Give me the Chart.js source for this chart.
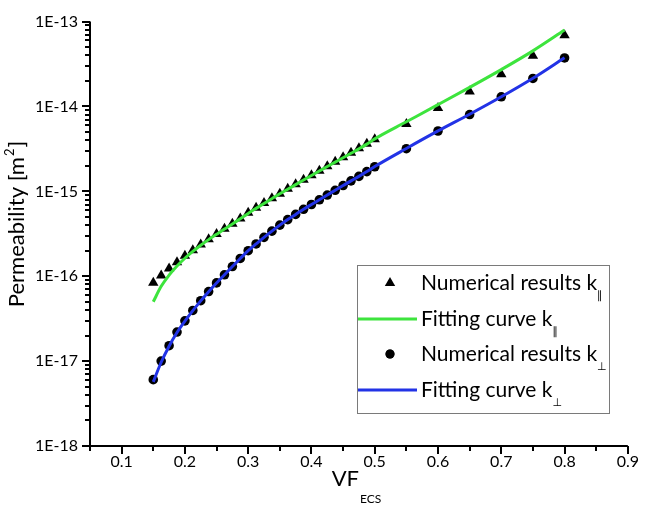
<!DOCTYPE html>
<html>
<head>
<meta charset="utf-8">
<script src="https://cdn.jsdelivr.net/npm/chart.js@4.4.1/dist/chart.umd.min.js"></script>
<style>
  html, body { margin: 0; padding: 0; background: #fff; }
</style>
</head>
<body>
<canvas id="myChart" width="645" height="509"></canvas>
<script>
// volume fraction of ECS
const vfValues = [0.15,0.1625,0.175,0.1875,0.2,0.2125,0.225,0.2375,0.25,0.2625,0.275,0.2875,0.3,0.3125,0.325,0.3375,0.35,0.3625,0.375,0.3875,0.4,0.4125,0.425,0.4375,0.45,0.4625,0.475,0.4875,0.5,0.55,0.6,0.65,0.7,0.75,0.8];

// k parallel
const kParNumerical = [8.4e-17,1.02e-16,1.23e-16,1.46e-16,1.74e-16,2.03e-16,2.36e-16,2.73e-16,3.15e-16,3.62e-16,4.15e-16,4.8e-16,5.6e-16,6.4e-16,7.3e-16,8.3e-16,9.4e-16,1.07e-15,1.21e-15,1.37e-15,1.55e-15,1.75e-15,1.98e-15,2.23e-15,2.52e-15,2.85e-15,3.22e-15,3.63e-15,4.1e-15,6.2e-15,9.6e-15,1.5e-14,2.4e-14,3.95e-14,6.9e-14];
const kParFit = [5.0e-17,7.6e-17,1.03e-16,1.32e-16,1.63e-16,1.96e-16,2.32e-16,2.7e-16,3.12e-16,3.6e-16,4.13e-16,4.75e-16,5.5e-16,6.3e-16,7.2e-16,8.2e-16,9.35e-16,1.06e-15,1.2e-15,1.36e-15,1.54e-15,1.74e-15,1.96e-15,2.21e-15,2.49e-15,2.81e-15,3.17e-15,3.6e-15,4.15e-15,6.6e-15,1.05e-14,1.68e-14,2.72e-14,4.52e-14,7.94e-14];

// k perpendicular
const kPerpNumerical = [6.05e-18,1.0e-17,1.52e-17,2.2e-17,2.98e-17,3.95e-17,5.15e-17,6.6e-17,8.35e-17,1.04e-16,1.3e-16,1.62e-16,2.0e-16,2.4e-16,2.87e-16,3.4e-16,4.0e-16,4.65e-16,5.35e-16,6.15e-16,7.0e-16,7.95e-16,9.05e-16,1.03e-15,1.17e-15,1.33e-15,1.5e-15,1.71e-15,1.95e-15,3.18e-15,5.14e-15,8.04e-15,1.3e-14,2.14e-14,3.73e-14];
const kPerpFit = [5.7e-18,9.7e-18,1.5e-17,2.17e-17,2.96e-17,3.93e-17,5.13e-17,6.58e-17,8.33e-17,1.04e-16,1.3e-16,1.62e-16,2.0e-16,2.4e-16,2.87e-16,3.4e-16,4.0e-16,4.65e-16,5.35e-16,6.15e-16,7.0e-16,7.95e-16,9.05e-16,1.03e-15,1.17e-15,1.33e-15,1.5e-15,1.71e-15,1.96e-15,3.2e-15,5.15e-15,8.1e-15,1.3e-14,2.15e-14,3.75e-14];

// ticks
const xTickValues = [0.1,0.2,0.3,0.4,0.5,0.6,0.7,0.8,0.9];
const xTickLabels = ['0.1','0.2','0.3','0.4','0.5','0.6','0.7','0.8','0.9'];
const xMinorTicks = [0.05,0.15,0.25,0.35,0.45,0.55,0.65,0.75,0.85];
const yTickValues = [1e-18,1e-17,1e-16,1e-15,1e-14,1e-13];
const yTickLabels = ['1E-18','1E-17','1E-16','1E-15','1E-14','1E-13'];

const legendItems = [
    {text: 'Numerical results k', sub: '\u2225', type: 'triangle'},
    {text: 'Fitting curve k', sub: '\u2225', type: 'line', color: '#3de43d'},
    {text: 'Numerical results k', sub: '\u22A5', type: 'circle'},
    {text: 'Fitting curve k', sub: '\u22A5', type: 'line', color: '#2233e6'}
];

const FONT = 'Lato, "Open Sans", sans-serif';

function pairs(ys) {
    return vfValues.map((v, i) => ({x: v, y: ys[i]}));
}

const extras = {
    id: 'extras',
    afterDraw(chart) {
        const ctx = chart.ctx;
        const xs = chart.scales.x, ys = chart.scales.y;
        const area = chart.chartArea;
        ctx.save();
        ctx.strokeStyle = '#000';
        ctx.lineWidth = 2;
        // axis lines
        ctx.beginPath();
        ctx.moveTo(area.left, area.top);
        ctx.lineTo(area.left, area.bottom);
        ctx.lineTo(area.right, area.bottom);
        ctx.stroke();
        // x ticks
        ctx.beginPath();
        xTickValues.forEach(v => {
            const p = Math.round(xs.getPixelForValue(v));
            ctx.moveTo(p, area.bottom); ctx.lineTo(p, area.bottom + 8);
        });
        xMinorTicks.forEach(v => {
            const p = Math.round(xs.getPixelForValue(v));
            ctx.moveTo(p, area.bottom); ctx.lineTo(p, area.bottom + 5);
        });
        // y ticks
        yTickValues.forEach(v => {
            const p = Math.round(ys.getPixelForValue(v));
            ctx.moveTo(area.left, p); ctx.lineTo(area.left - 8, p);
            if (v < 1e-13) {
                for (let m = 2; m <= 9; m++) {
                    const q = Math.round(ys.getPixelForValue(v * m));
                    ctx.moveTo(area.left, q); ctx.lineTo(area.left - 5, q);
                }
            }
        });
        ctx.stroke();

        // axis titles
        ctx.fillStyle = '#000';
        ctx.textBaseline = 'alphabetic';
        ctx.textAlign = 'left';
        ctx.font = '22px ' + FONT;
        const vfW = ctx.measureText('VF').width;
        ctx.font = '12px ' + FONT;
        const ecsW = ctx.measureText('ECS').width;
        const xStart = 356 - (vfW + ecsW) / 2;
        ctx.font = '22px ' + FONT;
        ctx.fillText('VF', xStart, 486);
        ctx.font = '12px ' + FONT;
        ctx.fillText('ECS', xStart + vfW + 1, 503);

        ctx.save();
        ctx.translate(24, 225);
        ctx.rotate(-Math.PI / 2);
        ctx.font = '22px ' + FONT;
        const t1 = 'Permeability [m';
        const w1 = ctx.measureText(t1).width;
        ctx.font = '13px ' + FONT;
        const w2 = ctx.measureText('2').width;
        ctx.font = '22px ' + FONT;
        const w3 = ctx.measureText(']').width;
        let sx = -(w1 + w2 + w3) / 2;
        ctx.fillText(t1, sx, 0);
        ctx.font = '13px ' + FONT;
        ctx.fillText('2', sx + w1 + 1, -10);
        ctx.font = '22px ' + FONT;
        ctx.fillText(']', sx + w1 + w2 + 2, 0);
        ctx.restore();

        // legend box
        ctx.fillStyle = '#fff';
        ctx.fillRect(357, 265, 252, 148);
        ctx.strokeStyle = '#7a7a7a';
        ctx.lineWidth = 1;
        ctx.strokeRect(357.5, 265.5, 252, 148);
        const rowY = [283, 319, 354, 390];
        legendItems.forEach((it, i) => {
            const y = rowY[i];
            if (it.type === 'line') {
                ctx.strokeStyle = it.color;
                ctx.lineWidth = 3;
                ctx.beginPath();
                ctx.moveTo(358, y); ctx.lineTo(417, y);
                ctx.stroke();
            } else {
                Chart.helpers.drawPoint(ctx, {pointStyle: it.type, radius: it.type === 'triangle' ? 6 : 4.5, borderWidth: 0, rotation: 0}, 390, y);
                ctx.fillStyle = '#000';
                ctx.fill();
            }
            ctx.fillStyle = '#000';
            ctx.font = '21px ' + FONT;
            ctx.fillText(it.text, 421, y + 7);
            const w = ctx.measureText(it.text).width;
            ctx.font = '11px "DejaVu Sans", sans-serif';
            ctx.fillText(it.sub, 421 + w, y + 16);
        });
        ctx.restore();
    }
};

const ctx = document.getElementById('myChart').getContext('2d');
const myChart = new Chart(ctx, {
    type: 'scatter',
    data: {
        datasets: [
            {
                label: 'Fitting curve k\u2225',
                data: pairs(kParFit),
                showLine: true,
                borderColor: '#3de43d',
                borderWidth: 3,
                pointRadius: 0,
                cubicInterpolationMode: 'monotone',
                order: 0
            },
            {
                label: 'Fitting curve k\u22A5',
                data: pairs(kPerpFit),
                showLine: true,
                borderColor: '#2233e6',
                borderWidth: 3,
                pointRadius: 0,
                cubicInterpolationMode: 'monotone',
                order: 0
            },
            {
                label: 'Numerical results k\u2225',
                data: pairs(kParNumerical),
                pointStyle: 'triangle',
                pointRadius: 6,
                backgroundColor: '#000',
                borderColor: '#000',
                borderWidth: 0,
                order: 1
            },
            {
                label: 'Numerical results k\u22A5',
                data: pairs(kPerpNumerical),
                pointStyle: 'circle',
                pointRadius: 4.8,
                backgroundColor: '#000',
                borderColor: '#000',
                borderWidth: 0,
                order: 1
            }
        ]
    },
    options: {
        responsive: false,
        animation: false,
        events: [],
        layout: { padding: { top: 8, right: 14, bottom: 0, left: 0 } },
        plugins: {
            legend: { display: false },
            tooltip: { enabled: false }
        },
        scales: {
            x: {
                type: 'linear',
                min: 0.05,
                max: 0.9,
                grid: { display: false, drawTicks: false },
                border: { display: false },
                afterBuildTicks: (scale) => { scale.ticks = xTickValues.map(v => ({value: v})); },
                afterFit: (scale) => { scale.height = 63; },
                ticks: {
                    autoSkip: false,
                    maxRotation: 0,
                    padding: 6,
                    color: '#000',
                    font: { family: FONT, size: 16 },
                    callback: (v) => xTickLabels[xTickValues.findIndex(t => Math.abs(t - v) < 1e-9)]
                }
            },
            y: {
                type: 'logarithmic',
                min: 1e-18,
                max: 1e-13,
                grid: { display: false, drawTicks: false },
                border: { display: false },
                afterBuildTicks: (scale) => { scale.ticks = yTickValues.map(v => ({value: v})); },
                afterFit: (scale) => { scale.width = 90; },
                ticks: {
                    autoSkip: false,
                    padding: 12,
                    color: '#000',
                    font: { family: FONT, size: 16 },
                    callback: (v) => yTickLabels[yTickValues.findIndex(t => Math.abs(Math.log10(t) - Math.log10(v)) < 1e-6)]
                }
            }
        }
    },
    plugins: [extras]
});
</script>
</body>
</html>
